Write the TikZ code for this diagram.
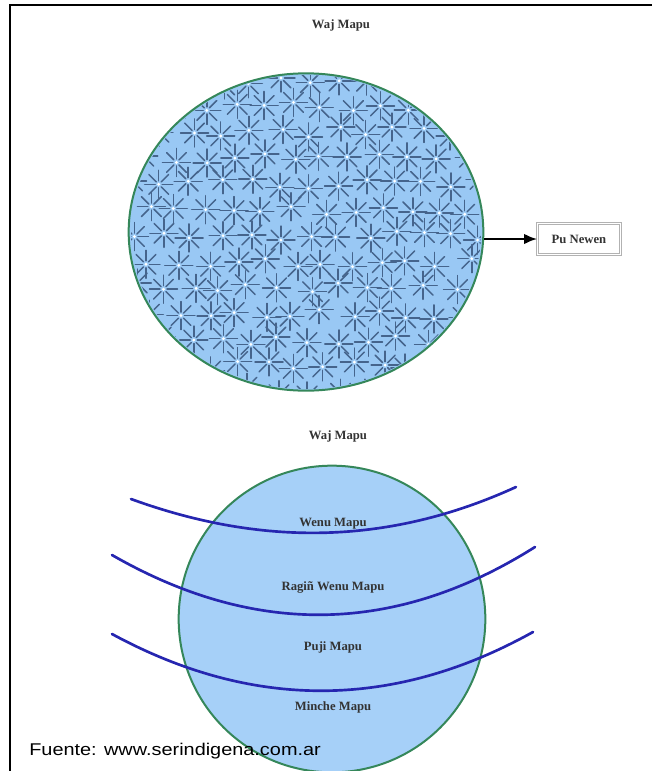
\documentclass[tikz,border=0pt]{standalone}
\usepackage{fontspec}
\setmainfont{Liberation Serif}
\newfontfamily\fuentefont{Liberation Sans}
\usepackage{xcolor}
\usetikzlibrary{shapes.geometric,arrows.meta}

\definecolor{mapublue}{HTML}{99C8F4}
\definecolor{earthblue}{HTML}{A6D0F8}
\definecolor{mapugreen}{HTML}{35875A}
\definecolor{starline}{HTML}{45648C}
\definecolor{bandblue}{HTML}{2626B0}

\begin{document}
\begin{tikzpicture}[x=0.75pt, y=-0.75pt,
    maplabel/.style={font=\bfseries\fontsize{9.5}{11}\selectfont, text=black!80},
    band/.style={bandblue, line width=2pt, line cap=round}]
    \useasboundingbox (0,0) rectangle (652,771);

    % Outer frame (only top and left show)
    \draw[line width=1.5pt] (10,771) -- (10,4.5) -- (652,4.5);

    % Upper world with its stars
    \node[maplabel] (toptitle) at (341,25) {Waj Mapu};
    \node[ellipse, fill=mapublue, draw=mapugreen, line width=1.5pt, inner sep=0pt,
          minimum width=266pt, minimum height=238pt] (wajmapu) at (306,232) {};
    \begin{scope}
        \clip (306,232) ellipse (175 and 157);
        \pgfmathsetseed{7}
        \foreach \r in {0,...,12}{
            \foreach \c in {0,...,12}{
                \pgfmathsetmacro{\sx}{134+\c*29+mod(\r,2)*14.5+rand*5}
                \pgfmathsetmacro{\sy}{80+\r*26+rand*5}
                \foreach \a in {0,45,...,315}
                    \draw[starline, line width=1.1pt, line cap=round] (\sx,\sy) ++(\a:3.5) -- ++(\a:10.5);
                \fill[white] (\sx,\sy) circle (1.6);
            }
        }
    \end{scope}

    % Pu Newen box
    \node[maplabel, draw=gray!60, double, double distance=1.2pt,
          minimum width=62pt, minimum height=23pt] (punewen) at (579,239) {Pu Newen};
    \draw[-{Latex[length=10pt,width=8pt]}, line width=2pt]
        (wajmapu.east |- punewen.west) -- (punewen.west);

    % Lower world and its layers
    \node[maplabel] (lowtitle) at (338,436) {Waj Mapu};
    \node[circle, fill=earthblue, draw=mapugreen, line width=1.5pt, inner sep=0pt,
          minimum size=230pt] (earth) at (332,619) {};

    \draw[band] (131,499) .. controls (260,546) and (387,546) .. (516,487);
    \draw[band] (112,555) .. controls (253,636) and (394,636) .. (535,547);
    \draw[band] (112,634) .. controls (252,710) and (393,710) .. (533,632);

    \node[maplabel] (wenu) at (333,524) {Wenu Mapu};
    \node[maplabel] (ragin) at (333,587) {Ragiñ Wenu Mapu};
    \node[maplabel] (puji) at (333,647) {Puji Mapu};
    \node[maplabel] (minche) at (333,707) {Minche Mapu};

    % Source
    \node[anchor=base west, inner sep=0pt, xscale=1.17,
          font=\fuentefont\fontsize{12.75}{14}\selectfont] (fuente) at (29,755)
        {Fuente: www.serindigena.com.ar};
\end{tikzpicture}
\end{document}
